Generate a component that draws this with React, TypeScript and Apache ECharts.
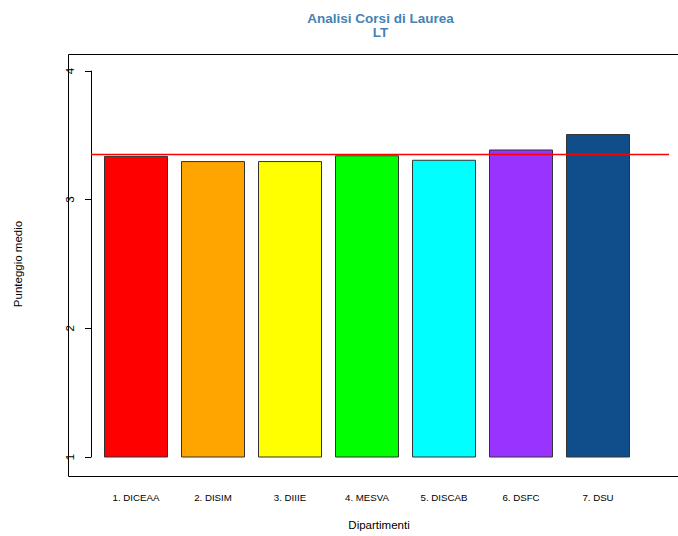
import React, { useEffect, useRef } from "react";
import * as echarts from "echarts";

const categories = ["1. DICEAA", "2. DISIM", "3. DIIIE", "4. MESVA", "5. DISCAB", "6. DSFC", "7. DSU"];
const values = [3.34, 3.30, 3.30, 3.345, 3.31, 3.39, 3.51];
const barColors = ["#FF0000", "#FFA500", "#FFFF00", "#00FF00", "#00FFFF", "#9933FF", "#104E8B"];
const referenceValue = 3.35;
const yMin = 1;
const yMax = 4;
const titleText = "Analisi Corsi di Laurea\nLT";
const xName = "Dipartimenti";
const yName = "Punteggio medio";

const FONT = "'Liberation Sans', Arial, Helvetica, sans-serif";

export default function App() {
  const ref = useRef<HTMLDivElement>(null);
  useEffect(() => {
    document.body.style.margin = "0";
    if (!ref.current) return;
    const chart = echarts.init(ref.current, undefined, { renderer: "svg" });
    chart.setOption({
      animation: false,
      backgroundColor: "#ffffff",
      title: {
        text: titleText,
        left: 375.5,
        top: 6,
        textAlign: "center",
        textStyle: {
          color: "#4682B4",
          fontFamily: FONT,
          fontWeight: "bold",
          fontSize: 13.5,
          lineHeight: 14,
        },
      },
      grid: { left: 97.5, right: 41.5, top: 71, bottom: 75, containLabel: false },
      xAxis: {
        type: "category",
        data: categories,
        axisLine: { show: false },
        axisTick: { show: false },
        axisLabel: { color: "#000", fontFamily: FONT, fontSize: 9.7, margin: 35, interval: 0 },
        name: xName,
        nameLocation: "middle",
        nameGap: 62,
        nameTextStyle: { color: "#000", fontFamily: FONT, fontSize: 11.5, padding: [0, 0, 0, 24] },
      },
      yAxis: {
        type: "value",
        min: yMin,
        max: yMax,
        interval: 1,
        offset: 6.5,
        splitLine: { show: false },
        axisLine: { show: true, lineStyle: { color: "#000", width: 1 } },
        axisTick: { show: true, length: 6, lineStyle: { color: "#000" } },
        axisLabel: { color: "#000", fontFamily: FONT, fontSize: 11.5, rotate: 90, margin: 15 },
        name: yName,
        nameLocation: "middle",
        nameRotate: 90,
        nameGap: 67,
        nameTextStyle: { color: "#000", fontFamily: FONT, fontSize: 11.5 },
      },
      graphic: [
        {
          type: "rect",
          shape: { x: 68.5, y: 54.5, width: 624, height: 422 },
          style: { fill: "none", stroke: "#000", lineWidth: 1 },
          silent: true,
          z: 0,
        },
      ],
      series: [
        {
          type: "bar",
          data: values.map((v, i) => ({ value: v, itemStyle: { color: barColors[i] } })),
          barWidth: 64,
          itemStyle: { borderColor: "#333", borderWidth: 1 },
          markLine: {
            silent: true,
            symbol: ["none", "none"],
            label: { show: false },
            lineStyle: { color: "#FF0000", width: 1.3, type: "solid" },
            data: [[{ x: 91, yAxis: referenceValue }, { x: 669, yAxis: referenceValue }]],
          },
          z: 2,
        },
      ],
    });
    return () => chart.dispose();
  }, []);
  return <div ref={ref} style={{ width: 678, height: 536 }} />;
}
